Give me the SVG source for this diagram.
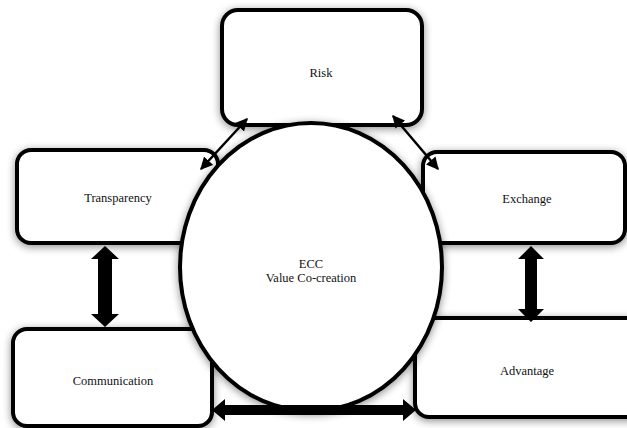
<svg xmlns="http://www.w3.org/2000/svg" width="627" height="428" viewBox="0 0 627 428">
<defs>
<filter id="sh" x="-20%" y="-20%" width="140%" height="140%">
<feGaussianBlur in="SourceAlpha" stdDeviation="4"/>
<feOffset dx="0" dy="2" result="b"/>
<feComponentTransfer><feFuncA type="linear" slope="0.45"/></feComponentTransfer>
<feMerge><feMergeNode/><feMergeNode in="SourceGraphic"/></feMerge>
</filter>
<marker id="ah" viewBox="0 0 10 10" refX="9" refY="5" markerWidth="5" markerHeight="5" orient="auto-start-reverse">
<path d="M0,0 L10,5 L0,10 z" fill="#000"/>
</marker>
</defs>
<style>
.box{fill:#fff;stroke:#000;stroke-width:4;filter:url(#sh)}
.lbl{font-family:"Liberation Serif",serif;font-size:12.5px;fill:#111;text-anchor:middle}
.thin{stroke:#000;stroke-width:2.5;fill:none}
</style>
<rect width="627" height="428" fill="#fff"/>
<g id="risk"><rect class="box" x="222" y="10" width="200" height="115" rx="16"/><text class="lbl" x="321" y="77">Risk</text></g>
<g id="transparency"><rect class="box" x="17" y="150" width="201" height="93" rx="14"/><text class="lbl" x="118" y="202">Transparency</text></g>
<g id="exchange"><rect class="box" x="423" y="152" width="202" height="91" rx="14"/><text class="lbl" x="527" y="203">Exchange</text></g>
<g id="communication"><rect class="box" x="13" y="329" width="199" height="97" rx="14"/><text class="lbl" x="113" y="385">Communication</text></g>
<g id="advantage"><rect class="box" x="415" y="318" width="240" height="99" rx="14"/><text class="lbl" x="527" y="375">Advantage</text></g>
<g id="ecc"><ellipse class="box" cx="311" cy="267" rx="131" ry="144"/><text class="lbl" x="311" y="268">ECC</text><text class="lbl" x="311" y="282">Value Co-creation</text></g>
<g id="connectors">
<line class="thin" x1="247" y1="119" x2="201" y2="169" marker-start="url(#ah)" marker-end="url(#ah)"/>
<line class="thin" x1="393" y1="116" x2="438" y2="169" marker-start="url(#ah)" marker-end="url(#ah)"/>
<polygon points="105,246 119,259 112,259 112,314 119,314 105,327 91,314 98,314 98,259 91,259" fill="#000"/>
<polygon points="531,246 544,259 537,259 537,309 544,309 531,322 518,309 525,309 525,259 518,259" fill="#000"/>
<polygon points="212,410 225,399 225,405 403,405 403,399 416,410 403,421 403,415 225,415 225,421" fill="#000"/>
</g>
</svg>
